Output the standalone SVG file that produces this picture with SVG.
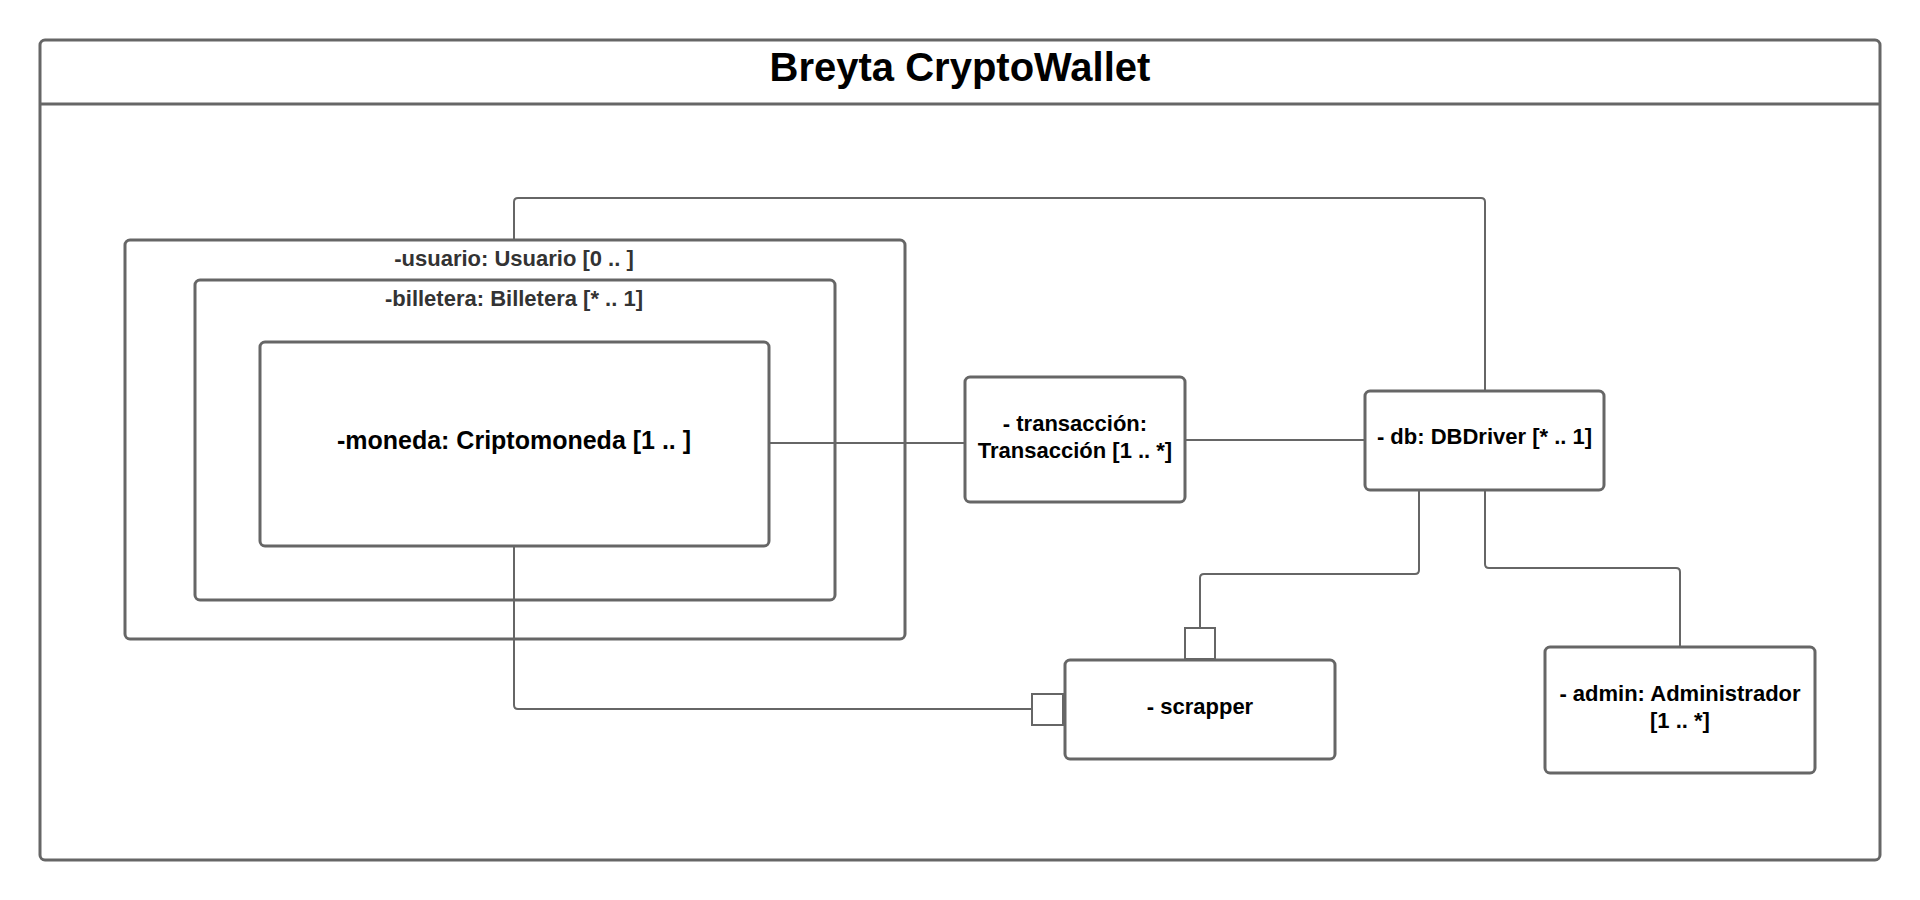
<svg xmlns="http://www.w3.org/2000/svg" width="1920" height="900" viewBox="0 0 1920 900">
<style>
.box{fill:#fff;stroke:#666;stroke-width:3}
.frame{fill:none;stroke:#666;stroke-width:3}
.cont{fill:none;stroke:#666;stroke-width:3}
.conn{fill:none;stroke:#666;stroke-width:2}
.port{fill:#fff;stroke:#666;stroke-width:2}
.t{font-family:"Liberation Sans",Arial,sans-serif;font-weight:bold;font-size:22px;fill:#000;text-anchor:middle}
.tg{fill:#333}
</style>
<rect width="1920" height="900" fill="#fff"/>
<g id="frame">
<rect class="frame" x="40" y="40" width="1840" height="820" rx="5"/>
<line class="frame" x1="40" y1="104" x2="1880" y2="104"/>
<text class="t" x="960" y="81" style="font-size:40px">Breyta CryptoWallet</text>
</g>
<g id="usuario">
<rect class="cont" x="125" y="240" width="780" height="399" rx="5"/>
<text class="t tg" x="514" y="266">-usuario: Usuario [0 .. ]</text>
</g>
<g id="billetera">
<rect class="cont" x="195" y="280" width="640" height="320" rx="5"/>
<text class="t tg" x="514" y="306">-billetera: Billetera [* .. 1]</text>
</g>
<g id="connectors">
<path class="conn" d="M514 240 V202 Q514 198 518 198 H1481 Q1485 198 1485 202 V391"/>
<path class="conn" d="M769 443 H965"/>
<path class="conn" d="M1185 440 H1365"/>
<path class="conn" d="M1419 490 V570 Q1419 574 1415 574 H1204 Q1200 574 1200 578 V628"/>
<path class="conn" d="M1485 490 V564 Q1485 568 1489 568 H1676 Q1680 568 1680 572 V647"/>
<path class="conn" d="M514 546 V705 Q514 709 518 709 H1032"/>
</g>
<g id="moneda">
<rect class="box" x="260" y="342" width="509" height="204" rx="5"/>
<text class="t" x="514" y="449" style="font-size:25px">-moneda: Criptomoneda [1 .. ]</text>
</g>
<g id="transaccion">
<rect class="box" x="965" y="377" width="220" height="125" rx="5"/>
<text class="t" x="1075" y="431">- transacción:</text>
<text class="t" x="1075" y="458">Transacción [1 .. *]</text>
</g>
<g id="db">
<rect class="box" x="1365" y="391" width="239" height="99" rx="5"/>
<text class="t" x="1484.5" y="444">- db: DBDriver [* .. 1]</text>
</g>
<g id="scrapper">
<rect class="box" x="1065" y="660" width="270" height="99" rx="5"/>
<rect class="port" x="1032" y="694" width="31" height="31"/>
<rect class="port" x="1185" y="628" width="30" height="31"/>
<text class="t" x="1200" y="714">- scrapper</text>
</g>
<g id="admin">
<rect class="box" x="1545" y="647" width="270" height="126" rx="5"/>
<text class="t" x="1680" y="701">- admin: Administrador</text>
<text class="t" x="1680" y="728">[1 .. *]</text>
</g>
</svg>
